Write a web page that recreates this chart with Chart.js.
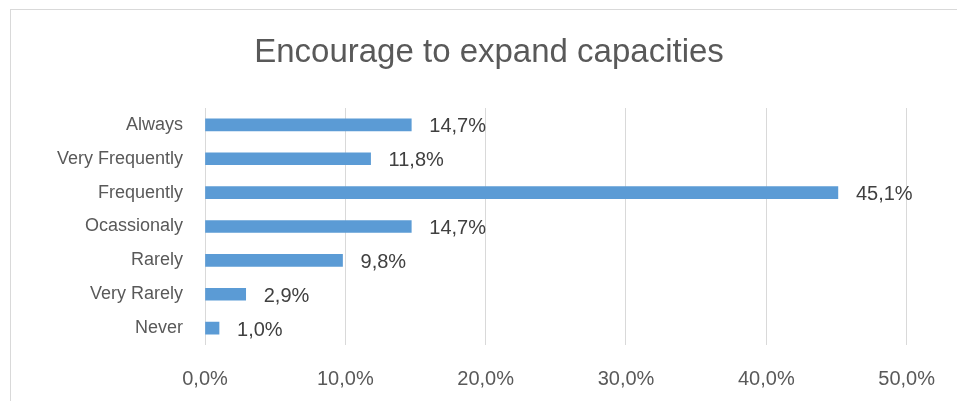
<!DOCTYPE html>
<html>
<head>
<meta charset="utf-8">
<script src="https://cdn.jsdelivr.net/npm/chart.js@4"></script>
<style>
  html, body { margin: 0; padding: 0; background: #fff; overflow: hidden; }
  #wrap { position: absolute; left: 0; top: 0; width: 957px; height: 401px; }
  #frame { position: absolute; left: 10px; top: 9px; width: 980px; height: 420px; border: 1px solid #d9d9d9; }
</style>
</head>
<body>
<div id="frame"></div>
<div id="wrap"><canvas id="chart" width="957" height="401"></canvas></div>
<script>
const categories = ['Always', 'Very Frequently', 'Frequently', 'Ocassionaly', 'Rarely', 'Very Rarely', 'Never'];
const shares = [14.7, 11.8, 45.1, 14.7, 9.8, 2.9, 1.0];
const tickValues = [0, 10, 20, 30, 40, 50];
const chartTitle = 'Encourage to expand capacities';

const fmt = v => v.toFixed(1).replace('.', ',') + '%';
const fontFamily = '"Liberation Sans", Arial, sans-serif';

const valueLabels = {
  id: 'valueLabels',
  afterDatasetsDraw(chart) {
    const ctx = chart.ctx;
    const meta = chart.getDatasetMeta(0);
    ctx.save();
    ctx.font = '20px ' + fontFamily;
    ctx.fillStyle = '#404040';
    ctx.textAlign = 'left';
    ctx.textBaseline = 'middle';
    meta.data.forEach((bar, i) => {
      ctx.fillText(fmt(shares[i]), bar.x + 18, bar.y + 2);
    });
    ctx.restore();
  }
};

// title centred on the outer frame rather than on the chart box
const frameTitle = {
  id: 'frameTitle',
  afterDraw(chart) {
    const ctx = chart.ctx;
    ctx.save();
    ctx.font = '33px ' + fontFamily;
    ctx.fillStyle = '#595959';
    ctx.textAlign = 'center';
    ctx.textBaseline = 'middle';
    ctx.fillText(chartTitle, 489, 53);
    ctx.restore();
  }
};

new Chart(document.getElementById('chart').getContext('2d'), {
  type: 'bar',
  data: {
    labels: categories,
    datasets: [{
      data: shares,
      backgroundColor: '#5b9bd5',
      borderWidth: 0,
      barThickness: 12
    }]
  },
  options: {
    indexAxis: 'y',
    responsive: false,
    animation: false,
    layout: { padding: { left: 0, right: 46, top: 108, bottom: 0 } },
    plugins: {
      legend: { display: false },
      tooltip: { enabled: false },
      title: { display: false }
    },
    scales: {
      x: {
        min: 0,
        max: 50,
        afterBuildTicks: scale => { scale.ticks = tickValues.map(v => ({ value: v })); },
        afterFit: scale => { scale.height = 56; },
        grid: { color: '#d9d9d9', lineWidth: 1, drawTicks: false },
        border: { display: false },
        ticks: {
          color: '#595959',
          padding: 22,
          font: { family: fontFamily, size: 20 },
          callback: v => fmt(v)
        }
      },
      y: {
        afterFit: scale => { scale.width = 205; },
        grid: { display: false },
        border: { display: false },
        ticks: {
          color: '#595959',
          padding: 14,
          font: { family: fontFamily, size: 18 }
        }
      }
    }
  },
  plugins: [valueLabels, frameTitle]
});
</script>
</body>
</html>
